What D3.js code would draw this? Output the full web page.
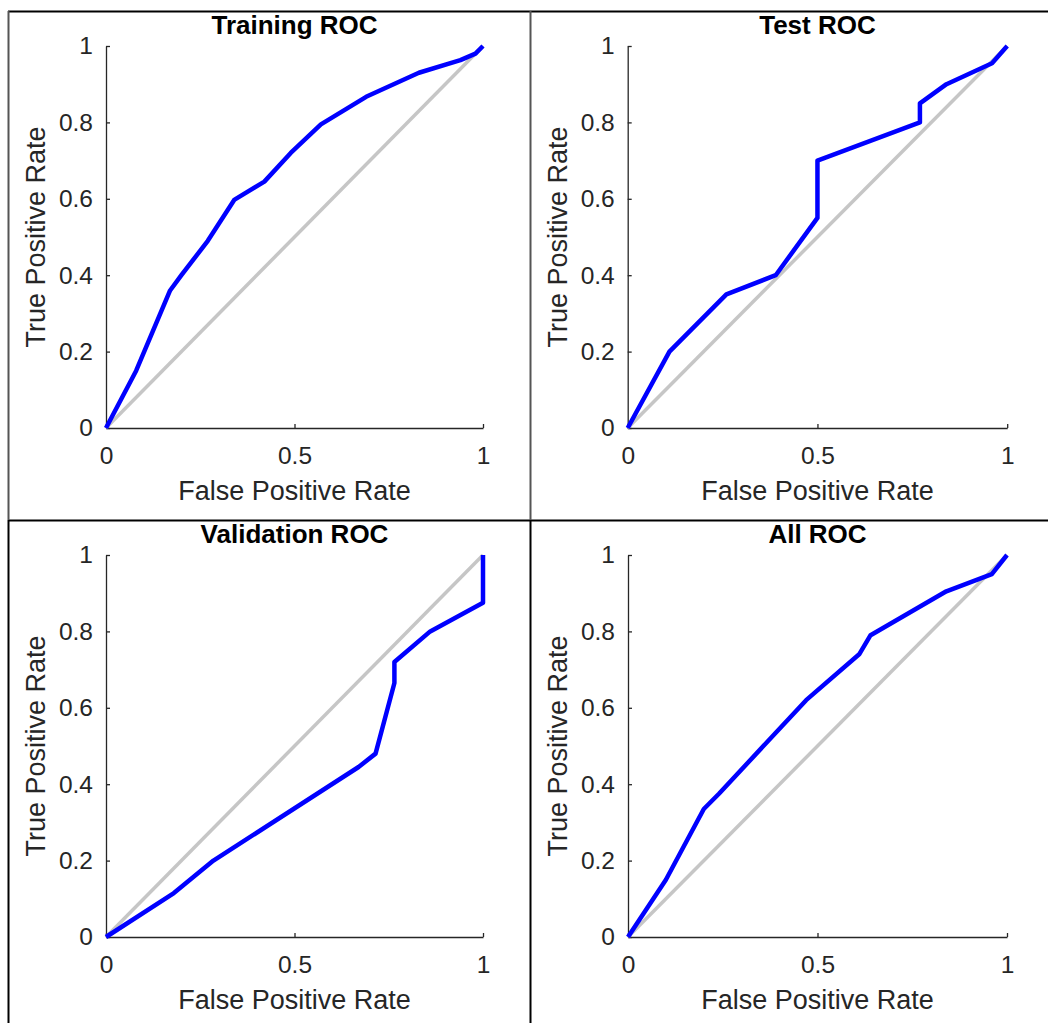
<!DOCTYPE html>
<html lang="en">
<head>
    <meta charset="UTF-8">
    <title>ROC curves</title>
    <script src="https://cdn.jsdelivr.net/npm/d3@7/dist/d3.min.js"></script>
    <style>
        body { margin: 0; background: #fff; }
        text { font-family: "Liberation Sans", Arial, sans-serif; }
    </style>
</head>
<body>

<script>
    // values
    var titles = ["Training ROC", "Test ROC", "Validation ROC", "All ROC"];

    var trainFpr = [0, 0.08, 0.17, 0.20, 0.27, 0.34, 0.42, 0.49, 0.57, 0.69, 0.83, 0.94, 0.98, 1];
    var trainTpr = [0, 0.15, 0.36, 0.40, 0.49, 0.597, 0.645, 0.72, 0.795, 0.867, 0.93, 0.963, 0.98, 1];

    var testFpr = [0, 0.11, 0.26, 0.39, 0.5, 0.5, 0.77, 0.77, 0.84, 0.96, 1];
    var testTpr = [0, 0.20, 0.35, 0.40, 0.55, 0.70, 0.80, 0.85, 0.90, 0.955, 1];

    var validFpr = [0, 0.18, 0.285, 0.67, 0.715, 0.765, 0.765, 0.86, 1, 1];
    var validTpr = [0, 0.115, 0.20, 0.445, 0.48, 0.665, 0.72, 0.80, 0.875, 1];

    var allFpr = [0, 0.10, 0.20, 0.24, 0.47, 0.61, 0.64, 0.84, 0.96, 1];
    var allTpr = [0, 0.15, 0.335, 0.375, 0.62, 0.74, 0.79, 0.905, 0.95, 1];

    var xTicks = [0, 0.5, 1];
    var yTicks = [0, 0.2, 0.4, 0.6, 0.8, 1];

    var width = 1048;
    var height = 1023;

    var svg = d3.select("body").append("svg")
        .attr("width", width)
        .attr("height", height);

    // table cell borders
    var borders = [
        {x1: 8, y1: 11.5, x2: 1048, y2: 11.5, c: "#000"},
        {x1: 8, y1: 520.5, x2: 1048, y2: 520.5, c: "#000"},
        {x1: 8.5, y1: 11, x2: 8.5, y2: 520, c: "#555"},
        {x1: 8.5, y1: 520, x2: 8.5, y2: 1023, c: "#000"},
        {x1: 530.5, y1: 11, x2: 530.5, y2: 520, c: "#555"},
        {x1: 530.5, y1: 520, x2: 530.5, y2: 1023, c: "#000"}
    ];
    svg.selectAll("line.border")
        .data(borders)
        .enter()
        .append("line")
        .attr("class", "border")
        .attr("x1", function (d) { return d.x1; })
        .attr("y1", function (d) { return d.y1; })
        .attr("x2", function (d) { return d.x2; })
        .attr("y2", function (d) { return d.y2; })
        .attr("stroke", function (d) { return d.c; })
        .attr("stroke-width", 2);

    var panels = [
        {title: titles[0], fpr: trainFpr, tpr: trainTpr, left: 106, top: 46, w: 377, h: 382},
        {title: titles[1], fpr: testFpr, tpr: testTpr, left: 627.7, top: 46, w: 379.5, h: 382},
        {title: titles[2], fpr: validFpr, tpr: validTpr, left: 106, top: 555, w: 377, h: 382},
        {title: titles[3], fpr: allFpr, tpr: allTpr, left: 628, top: 555, w: 379, h: 382}
    ];

    var textColor = "#262626";

    panels.forEach(function (p) {
        var g = svg.append("g")
            .attr("transform", "translate(" + p.left + "," + p.top + ")");

        var x = d3.scaleLinear().domain([0, 1]).range([0, p.w]);
        var y = d3.scaleLinear().domain([0, 1]).range([p.h, 0]);

        var xAxis = d3.axisBottom(x)
            .tickValues(xTicks)
            .tickFormat(d3.format("~g"))
            .tickSizeInner(-4)
            .tickSizeOuter(0)
            .tickPadding(19);

        var yAxis = d3.axisLeft(y)
            .tickValues(yTicks)
            .tickFormat(d3.format("~g"))
            .tickSizeInner(-4)
            .tickSizeOuter(0)
            .tickPadding(13);

        var gx = g.append("g")
            .attr("transform", "translate(0," + p.h + ")")
            .call(xAxis);

        var gy = g.append("g")
            .call(yAxis);

        [gx, gy].forEach(function (a) {
            a.select(".domain").attr("stroke", textColor).attr("stroke-width", 1.3);
            a.selectAll(".tick line").attr("stroke", textColor).attr("stroke-width", 1.3);
            a.selectAll(".tick text")
                .attr("fill", textColor)
                .style("font-size", "24.5px")
                .style("font-family", "'Liberation Sans', Arial, sans-serif");
        });

        // chance diagonal
        var lineFunction = d3.line()
            .x(function (d) { return x(d[0]); })
            .y(function (d) { return y(d[1]); });

        g.append("path")
            .attr("d", lineFunction([[0, 0], [1, 1]]))
            .attr("stroke", "#c6c6c6")
            .attr("stroke-width", 3.5)
            .attr("fill", "none");

        var pts = p.fpr.map(function (v, i) { return [v, p.tpr[i]]; });

        g.append("path")
            .attr("d", lineFunction(pts))
            .attr("stroke", "#0000ff")
            .attr("stroke-width", 4.5)
            .attr("stroke-linejoin", "round")
            .attr("fill", "none");

        g.append("text")
            .attr("x", p.w / 2)
            .attr("y", -12)
            .attr("text-anchor", "middle")
            .style("font-size", "26px")
            .style("font-weight", "bold")
            .attr("fill", "#000")
            .text(p.title);

        g.append("text")
            .attr("x", p.w / 2)
            .attr("y", p.h + 72)
            .attr("text-anchor", "middle")
            .style("font-size", "27px")
            .attr("fill", textColor)
            .text("False Positive Rate");

        g.append("text")
            .attr("transform", "translate(-61," + (p.h / 2) + ") rotate(-90)")
            .attr("text-anchor", "middle")
            .style("font-size", "27px")
            .attr("fill", textColor)
            .text("True Positive Rate");
    });

</script>
</body>
</html>
